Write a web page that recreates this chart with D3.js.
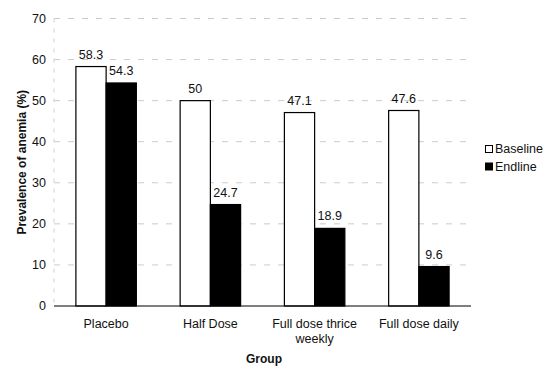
<!DOCTYPE html>
<html><head><meta charset="utf-8">
<script src="https://cdn.jsdelivr.net/npm/d3@7/dist/d3.min.js"></script>
<style>body{margin:0;background:#fff;} text{font-family:"Liberation Sans",Arial,sans-serif;}</style>
</head><body>
<svg id="c" width="558" height="366"></svg>
<script>
const categories = ["Placebo", "Half Dose", "Full dose thrice weekly", "Full dose daily"];
const categoryLines = [["Placebo"], ["Half Dose"], ["Full dose thrice", "weekly"], ["Full dose daily"]];
const seriesNames = ["Baseline", "Endline"];
const baseline = [58.3, 50, 47.1, 47.6];
const endline = [54.3, 24.7, 18.9, 9.6];
const yTicks = [0, 10, 20, 30, 40, 50, 60, 70];

(function () {
const svg = d3.select("#c");
const pL = 54, pR = 471, pT = 18.5, pB = 306;
const x = d3.scaleBand().domain(categories).range([pL, pR]).paddingInner(0.42).paddingOuter(0.21);
const xs = d3.scaleBand().domain(seriesNames).range([0, x.bandwidth()]);
const y = d3.scaleLinear().domain([0, 70]).range([pB, pT]);
const colors = {Baseline: "#fff", Endline: "#000"};

// gridlines
svg.append("g").selectAll("line").data(yTicks.filter(d => d > 0)).join("line")
  .attr("x1", pL).attr("x2", pR).attr("y1", d => y(d)).attr("y2", d => y(d))
  .attr("stroke", "#cccccc").attr("stroke-width", 1).attr("stroke-dasharray", "6,8");
// y axis (faint)
svg.append("line").attr("x1", pL).attr("x2", pL).attr("y1", pT).attr("y2", pB)
  .attr("stroke", "#d0d0d0").attr("stroke-dasharray", "4,6");
svg.append("g").selectAll("text").data(yTicks).join("text")
  .attr("x", pL - 8).attr("y", d => y(d)).attr("dy", "0.35em")
  .attr("text-anchor", "end").attr("font-size", 12.5).attr("fill", "#111").text(d => d);

const data = categories.map((c, i) => ({c, vals: [{s: "Baseline", v: baseline[i]}, {s: "Endline", v: endline[i]}]}));
const g = svg.append("g").selectAll("g").data(data).join("g")
  .attr("transform", d => `translate(${x(d.c)},0)`);
g.selectAll("rect").data(d => d.vals).join("rect")
  .attr("x", d => xs(d.s)).attr("width", xs.bandwidth())
  .attr("y", d => y(d.v)).attr("height", d => y(0) - y(d.v))
  .attr("fill", d => colors[d.s]).attr("stroke", "#000").attr("stroke-width", 1.2);
g.selectAll("text").data(d => d.vals).join("text")
  .attr("x", d => xs(d.s) + xs.bandwidth() / 2)
  .attr("y", d => y(d.v) - 8).attr("text-anchor", "middle")
  .attr("font-size", 12.5).attr("fill", "#111").text(d => d.v);

// x axis line
svg.append("line").attr("x1", pL).attr("x2", pR).attr("y1", y(0)).attr("y2", y(0))
  .attr("stroke", "#000").attr("stroke-width", 1.2);

// category labels
const cl = svg.append("g").selectAll("text").data(categories).join("text")
  .attr("x", d => x(d) + x.bandwidth() / 2).attr("y", 328)
  .attr("text-anchor", "middle").attr("font-size", 12.5).attr("fill", "#111");
cl.each(function(d, i) {
  const t = d3.select(this);
  categoryLines[i].forEach((ln, j) => t.append("tspan").attr("x", x(d) + x.bandwidth() / 2).attr("dy", j ? 15 : 0).text(ln));
});

// axis titles
svg.append("text").attr("x", 264).attr("y", 363).attr("text-anchor", "middle")
  .attr("font-size", 12).attr("font-weight", "bold").attr("fill", "#111").text("Group");
svg.append("text").attr("transform", `translate(26,${(pT + pB) / 2}) rotate(-90)`)
  .attr("text-anchor", "middle").attr("font-size", 12).attr("font-weight", "bold").attr("fill", "#111")
  .text("Prevalence of anemia (%)");

// legend
const lg = svg.append("g").attr("transform", "translate(485,145)");
seriesNames.forEach((s, i) => {
  lg.append("rect").attr("x", 0.5).attr("y", i * 17.5 + 0.5).attr("width", 7).attr("height", 7)
    .attr("fill", colors[s]).attr("stroke", "#000").attr("stroke-width", 1);
  lg.append("text").attr("x", 10).attr("y", i * 17.5 + 4).attr("dy", "0.35em")
    .attr("font-size", 12.5).attr("fill", "#111").text(s);
});
})();
</script>
</body></html>
